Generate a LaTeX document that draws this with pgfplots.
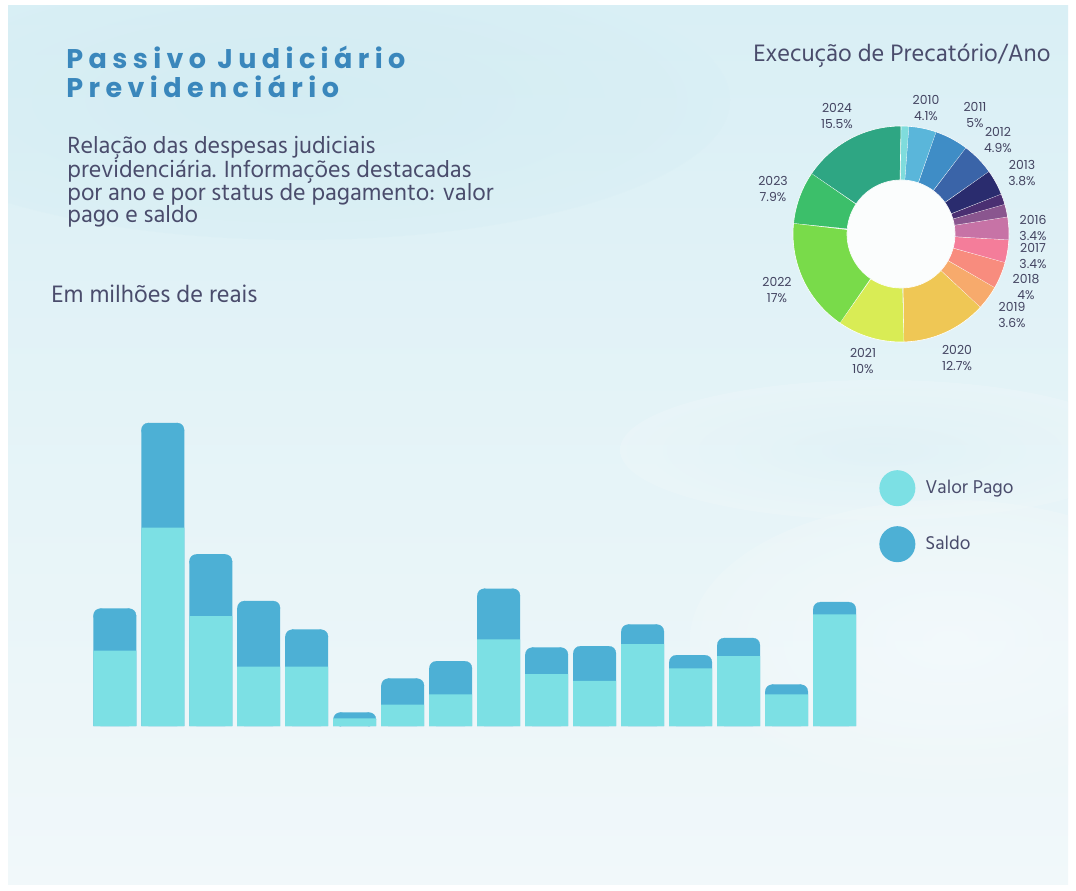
\documentclass[border=0pt]{standalone}
\usepackage{fontspec}
\usepackage{pgfplots}
\usepackage{pgfplotstable}
\pgfplotsset{compat=1.18}
\setmainfont{Hind Madurai}
\newfontfamily\titlefont[LetterSpace=20]{Poppins}
\newfontfamily\pielabfont{Poppins}

\definecolor{paid}{HTML}{7CE0E4}
\definecolor{saldo}{HTML}{4DB0D5}
\definecolor{txt}{HTML}{4A4C6C}
\definecolor{ttl}{HTML}{3A87BC}
\definecolor{bgtop}{HTML}{D9EFF5}
\definecolor{bgbot}{HTML}{F1F8FA}
\definecolor{bgblob}{HTML}{CDEAF1}
\definecolor{c09}{HTML}{7FDCDC}
\definecolor{c10}{HTML}{5AB6DA}
\definecolor{c11}{HTML}{3F8DC6}
\definecolor{c12}{HTML}{3A64A8}
\definecolor{c13}{HTML}{2A2C6E}
\definecolor{c14}{HTML}{4A2F72}
\definecolor{c15}{HTML}{8A568F}
\definecolor{c16}{HTML}{C773A6}
\definecolor{c17}{HTML}{F47D9A}
\definecolor{c18}{HTML}{F88C7E}
\definecolor{c19}{HTML}{F7AA6C}
\definecolor{c20}{HTML}{EFC755}
\definecolor{c21}{HTML}{D9EC55}
\definecolor{c22}{HTML}{79DB4A}
\definecolor{c23}{HTML}{3CBF6A}
\definecolor{c24}{HTML}{2EA683}

% year, valor pago, saldo (milhoes de reais)
\pgfplotstableread{
year paid saldo
2009 38.6 21.7
2010 101.7 53.8
2011 56.3 31.8
2012 30.4 33.8
2013 30.4 19.1
2014 3.9 3.1
2015 10.9 13.5
2016 16.2 17.1
2017 44.4 26.1
2018 26.6 13.7
2019 23.2 17.8
2020 42.0 10.1
2021 29.5 6.9
2022 35.8 9.4
2023 16.2 5.1
2024 57.2 6.4
}\bars

% corner radius of the bars, in y units (3.5pt)
\def\rr{3.59}
% half bar width minus radius, in x units
\def\rx{0.302}

% donut slice: start %, end %, colour
\newcommand\slice[3]{%
  \addplot[fill=#3, draw=white, line width=0.3pt, domain=0:2, samples=121, variable=\t]
  ({((\t<=1)?1:0.5)*cos((\t<=1)?(90-3.6*#1+(3.6*#1-3.6*#2)*\t):(90-3.6*#2+(3.6*#2-3.6*#1)*(\t-1)))},
   {((\t<=1)?1:0.5)*sin((\t<=1)?(90-3.6*#1+(3.6*#1-3.6*#2)*\t):(90-3.6*#2+(3.6*#2-3.6*#1)*(\t-1)))});
}

\begin{document}
\begin{tikzpicture}
\begin{scope}[x=0.5pt,y=0.5pt]
\useasboundingbox (0,0) rectangle (1076,890);
\fill[white] (0,0) rectangle (1076,890);
\shade[top color=bgtop, bottom color=bgbot] (8,6) rectangle (1068,884);
\begin{scope}
\clip (8,6) rectangle (1068,884);
\shade[inner color=bgblob, outer color=bgtop, opacity=0.5] (300,790) ellipse (430 and 140);
\shade[inner color=bgblob!60!bgbot, outer color=bgbot, opacity=0.35] (880,440) ellipse (260 and 70);
\shade[inner color=white, outer color=bgbot, opacity=0.4] (950,250) ellipse (260 and 140);
\end{scope}

% title and texts
\node[anchor=base west, inner sep=0, text=ttl, font=\titlefont\bfseries\fontsize{13.5}{13.5}\selectfont] at (66,890-69) {Passivo Judiciário};
\node[anchor=base west, inner sep=0, text=ttl, font=\titlefont\bfseries\fontsize{13.5}{13.5}\selectfont] at (66,890-98) {Previdenciário};
\begin{scope}[every node/.style={anchor=base west, inner sep=0, text=txt, font=\fontsize{12}{13}\selectfont}]
\node at (67,890-154) {Relação das despesas judiciais};
\node at (67,890-178) {previdenciária. Informações destacadas};
\node at (67,890-201) {por ano e por status de pagamento: valor};
\node at (67,890-223) {pago e saldo};
\node[font=\fontsize{12.2}{13}\selectfont] at (51,890-303) {Em milhões de reais};
\node[font=\fontsize{12.2}{13}\selectfont] at (753,890-62) {Execução de Precatório/Ano};
\end{scope}
\fill[white!70!bgbot] (901,656) circle (54);
\end{scope}

% stacked bars
\begin{axis}[
  set layers,
  at={(43pt,82pt)}, anchor=south west, scale only axis,
  width=387pt, height=195pt,
  xmin=2008.4, xmax=2024.53, ymin=0, ymax=200,
  axis line style={draw=none}, major tick length=0pt,
  ytick={0,50,100,150,200}, xtick={2009,...,2024},
  /pgf/number format/assume math mode=true,
  /pgf/number format/1000 sep={},
  yticklabel style={font=\fontsize{9.3}{10}\selectfont, text=txt!85, xshift=-1pt},
  xticklabel style={font=\fontsize{8}{10}\selectfont, text=txt, rotate=45, anchor=north east, xshift=-2pt, yshift=2pt},
  ybar, bar width=21.5pt, bar shift=0pt,
  reverse legend,
  legend style={at={(1.0245,0.538)}, anchor=west, draw=none, fill=none,
    font=\fontsize{9.5}{11}\selectfont, text=txt, row sep=10pt, inner sep=0pt,
    cells={anchor=west}},
]
% Saldo (total height) with rounded top corners
\addplot[fill=saldo, draw=none,
  legend image code/.code={\fill[saldo] (9pt,0pt) circle (9pt); \path (21pt,0) ;}]
  table[x=year, y expr=\thisrow{paid}+\thisrow{saldo}-\rr] {\bars};
\addlegendentry{Saldo}
\addplot[fill=saldo, draw=none, bar width=14.5pt, forget plot]
  table[x=year, y expr=\thisrow{paid}+\thisrow{saldo}] {\bars};
\addplot[color=saldo, only marks, mark=*, mark size=3.4pt,
  mark options={solid, fill=saldo, draw=saldo, line width=0.1pt}, forget plot]
  table[x expr=\thisrow{year}-\rx, y expr=\thisrow{paid}+\thisrow{saldo}-\rr] {\bars};
\addplot[color=saldo, only marks, mark=*, mark size=3.4pt,
  mark options={solid, fill=saldo, draw=saldo, line width=0.1pt}, forget plot]
  table[x expr=\thisrow{year}+\rx, y expr=\thisrow{paid}+\thisrow{saldo}-\rr] {\bars};
% Valor pago, above the corner marks
\addplot[fill=paid, draw=none, on layer=axis foreground,
  legend image code/.code={\fill[paid] (9pt,0pt) circle (9pt); \path (21pt,0) ;}]
  table[x=year, y=paid] {\bars};
\addlegendentry{Valor Pago}
\end{axis}

% donut
\begin{axis}[
  at={(396.5pt,274pt)}, anchor=south west, scale only axis,
  width=108pt, height=108pt,
  xmin=-1, xmax=1, ymin=-1, ymax=1, hide axis, clip=false]
\slice{0}{1.2}{c09}
\slice{1.2}{5.3}{c10}
\slice{5.3}{10.3}{c11}
\slice{10.3}{15.2}{c12}
\slice{15.2}{19.0}{c13}
\slice{19.0}{20.6}{c14}
\slice{20.6}{22.5}{c15}
\slice{22.5}{25.9}{c16}
\slice{25.9}{29.3}{c17}
\slice{29.3}{33.3}{c18}
\slice{33.3}{36.9}{c19}
\slice{36.9}{49.6}{c20}
\slice{49.6}{59.6}{c21}
\slice{59.6}{76.6}{c22}
\slice{76.6}{84.5}{c23}
\slice{84.5}{100}{c24}
\end{axis}

\begin{scope}[x=0.5pt,y=0.5pt,every node/.style={align=center, inner sep=0, text=txt!90!black, font=\pielabfont\fontsize{6.2}{7.6}\selectfont}]
\node at (837,890-116) {2024\\15.5\%};
\node at (926,890-108) {2010\\4.1\%};
\node at (975,890-115) {2011\\5\%};
\node at (998,890-140) {2012\\4.9\%};
\node at (1022,890-173) {2013\\3.8\%};
\node at (1033,890-228) {2016\\3.4\%};
\node at (1033,890-256) {2017\\3.4\%};
\node at (1026,890-287) {2018\\4\%};
\node at (1012,890-315) {2019\\3.6\%};
\node at (957,890-358) {2020\\12.7\%};
\node at (863,890-361) {2021\\10\%};
\node at (777,890-290) {2022\\17\%};
\node at (773,890-189) {2023\\7.9\%};
\end{scope}
\end{tikzpicture}
\end{document}
